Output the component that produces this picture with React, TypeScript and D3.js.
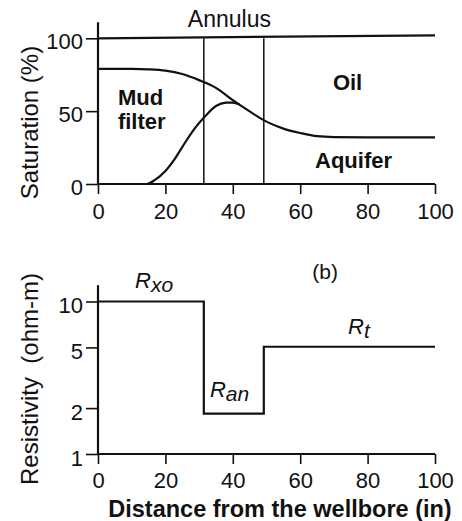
import React, { useEffect, useRef } from 'react';
import * as d3 from 'd3';

const distanceTicks = [0, 20, 40, 60, 80, 100];
const saturationTicks = [0, 50, 100];
const resistivityTicks = [1, 2, 5, 10];
const annulusBounds = [31.4, 49.2];

// saturation curves: [distance (in), saturation (%)]
const totalSat: [number, number][] = [[0, 100], [100, 102]];
const upperSat: [number, number][] = [
  [0, 79], [10, 79], [15, 78.7], [20, 77.8], [25, 75.5], [30, 71.3], [35, 66],
  [40, 57.5], [45, 49.8], [50, 42.8], [55, 38], [60, 35], [65, 32.8], [70, 32.2],
  [80, 32], [100, 32],
];
const lowerSat: [number, number][] = [
  [0, 0], [14.5, 0], [17, 3], [20, 9], [23, 18], [26, 29], [29, 39], [32, 47],
  [35, 53.5], [38, 55.8], [40, 55.9], [42, 54.5],
];

// resistivity profile: [distance (in), ohm-m]
const resistivitySteps: [number, number][] = [[0, 10], [31.4, 1.84], [49.2, 5.05], [100, 5.05]];

// annotations, placed in data units
const satLabels = [
  { text: 'Annulus', x: 39, y: 107.8, anchor: 'middle', bold: false, size: 23 },
  { text: 'Mud', x: 5.9, y: 54.2, anchor: 'start', bold: true, size: 22 },
  { text: 'filter', x: 5.9, y: 37.5, anchor: 'start', bold: true, size: 22 },
  { text: 'Oil', x: 69.7, y: 64.5, anchor: 'start', bold: true, size: 22 },
  { text: 'Aquifer', x: 64.4, y: 11, anchor: 'start', bold: true, size: 22 },
];
const resLabels = [
  { main: 'R', sub: 'xo', x: 11, y: 12.3 },
  { main: 'R', sub: 'an', x: 33.2, y: 2.36 },
  { main: 'R', sub: 't', x: 74.2, y: 6.12 },
];

const font = 'Liberation Sans, Arial, Helvetica, sans-serif';
const ink = '#111';

export default function App() {
  const svgRef = useRef<SVGSVGElement>(null);

  useEffect(() => {
    if (!svgRef.current) return;
    const svg = d3.select(svgRef.current);
    svg.selectAll('*').remove();

    const x = d3.scaleLinear().domain([0, 100]).range([98, 435]);
    const ySat = d3.scaleLinear().domain([0, 100]).range([184, 38.3]);
    const yRes = d3.scaleLog().domain([1, 10]).range([454, 301.5]);

    const styleTicks = (sel: any) => {
      sel.select('.domain').remove();
      sel.selectAll('line').attr('stroke', ink).attr('stroke-width', 1.6);
      sel.selectAll('text')
        .attr('font-size', 22)
        .attr('font-family', font)
        .attr('fill', ink);
    };

    // ---- top panel: saturation ----
    const top = svg.append('g');

    top.append('g')
      .attr('transform', `translate(0,${ySat(0)})`)
      .call(d3.axisBottom(x).tickValues(distanceTicks).tickSize(10).tickPadding(9).tickSizeOuter(0))
      .call(styleTicks);

    top.append('g')
      .attr('transform', `translate(${x(0)},0)`)
      .call(d3.axisLeft(ySat).tickValues(saturationTicks).tickSize(12).tickPadding(3).tickSizeOuter(0))
      .call(styleTicks)
      .selectAll('text').attr('dy', '0.48em');

    top.append('line')
      .attr('x1', x(0)).attr('x2', x(100))
      .attr('y1', ySat(0)).attr('y2', ySat(0))
      .attr('stroke', ink).attr('stroke-width', 2.2);
    top.append('line')
      .attr('x1', x(0)).attr('x2', x(0))
      .attr('y1', ySat(0)).attr('y2', ySat(111))
      .attr('stroke', ink).attr('stroke-width', 2.2);

    top.selectAll('.annulus')
      .data(annulusBounds)
      .enter().append('line')
      .attr('x1', d => x(d)).attr('x2', d => x(d))
      .attr('y1', ySat(0)).attr('y2', ySat(100))
      .attr('stroke', ink).attr('stroke-width', 1.5);

    const satLine = d3.line<[number, number]>()
      .x(d => x(d[0]))
      .y(d => ySat(d[1]))
      .curve(d3.curveMonotoneX);

    [totalSat, upperSat, lowerSat].forEach(series => {
      top.append('path')
        .attr('d', satLine(series))
        .attr('fill', 'none')
        .attr('stroke', ink)
        .attr('stroke-width', 2.2);
    });

    top.selectAll('.sat-label')
      .data(satLabels)
      .enter().append('text')
      .attr('x', d => x(d.x))
      .attr('y', d => ySat(d.y))
      .attr('text-anchor', d => d.anchor)
      .attr('font-family', font)
      .attr('font-size', d => d.size)
      .attr('font-weight', d => (d.bold ? 'bold' : 'normal'))
      .attr('fill', ink)
      .text(d => d.text);

    top.append('text')
      .attr('transform', 'translate(38,122.5) rotate(-90)')
      .attr('text-anchor', 'middle')
      .attr('font-family', font)
      .attr('font-size', 24)
      .attr('fill', ink)
      .text('Saturation (%)');

    // ---- bottom panel: resistivity ----
    const bot = svg.append('g');

    bot.append('g')
      .attr('transform', `translate(0,${yRes(1)})`)
      .call(d3.axisBottom(x).tickValues(distanceTicks).tickSize(10).tickPadding(8).tickSizeOuter(0))
      .call(styleTicks);

    bot.append('g')
      .attr('transform', `translate(${x(0)},0)`)
      .call(d3.axisLeft(yRes).tickValues(resistivityTicks).tickFormat(d3.format('d')).tickSize(12).tickPadding(3).tickSizeOuter(0))
      .call(styleTicks)
      .selectAll('text').attr('dy', '0.5em');

    bot.append('line')
      .attr('x1', x(0)).attr('x2', x(100))
      .attr('y1', yRes(1)).attr('y2', yRes(1))
      .attr('stroke', ink).attr('stroke-width', 2.2);
    bot.append('line')
      .attr('x1', x(0)).attr('x2', x(0))
      .attr('y1', yRes(1)).attr('y2', yRes(12.8))
      .attr('stroke', ink).attr('stroke-width', 2.2);

    const resLine = d3.line<[number, number]>()
      .x(d => x(d[0]))
      .y(d => yRes(d[1]))
      .curve(d3.curveStepAfter);

    bot.append('path')
      .attr('d', resLine(resistivitySteps))
      .attr('fill', 'none')
      .attr('stroke', ink)
      .attr('stroke-width', 2.2);

    const rl = bot.selectAll('.res-label')
      .data(resLabels)
      .enter().append('text')
      .attr('x', d => x(d.x))
      .attr('y', d => yRes(d.y))
      .attr('font-family', font)
      .attr('font-size', 22)
      .attr('font-style', 'italic')
      .attr('fill', ink);
    rl.append('tspan').text(d => d.main);
    rl.append('tspan').attr('dy', 4).attr('font-size', 21).text(d => d.sub);

    bot.append('text')
      .attr('x', x(67.4))
      .attr('y', yRes(14.05))
      .attr('text-anchor', 'middle')
      .attr('font-family', font)
      .attr('font-size', 21)
      .attr('fill', ink)
      .text('(b)');

    bot.append('text')
      .attr('transform', 'translate(38,379) rotate(-90)')
      .attr('text-anchor', 'middle')
      .attr('font-family', font)
      .attr('font-size', 24)
      .attr('fill', ink)
      .style('white-space', 'pre')
      .text('Resistivity  (ohm-m)');

    bot.append('text')
      .attr('x', 280)
      .attr('y', 517)
      .attr('text-anchor', 'middle')
      .attr('font-family', font)
      .attr('font-size', 23.5)
      .attr('font-weight', 'bold')
      .attr('fill', ink)
      .text('Distance from the wellbore (in)');
  }, []);

  return (
    <svg
      ref={svgRef}
      width={462}
      height={521}
      style={{ position: 'absolute', left: 0, top: 0, background: '#fff' }}
    />
  );
}
